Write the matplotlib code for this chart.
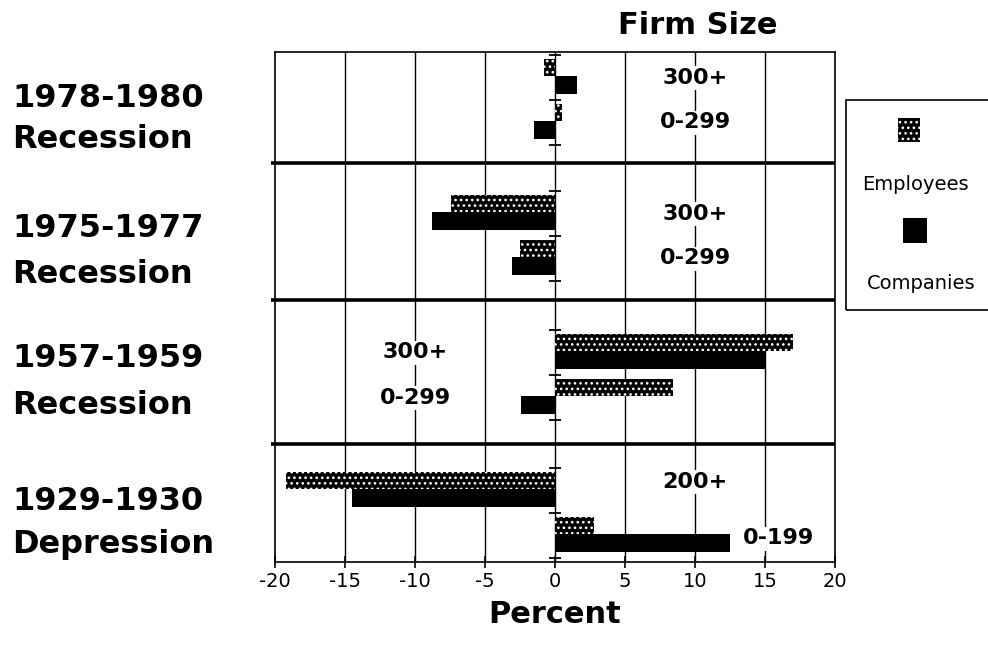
import matplotlib
matplotlib.use("Agg")
import matplotlib.pyplot as plt
from matplotlib.patches import Rectangle

plt.rcParams["font.family"] = ["DejaVu Sans"]
plt.rcParams["axes.unicode_minus"] = False
plt.rcParams["hatch.linewidth"] = 1.1

# ---- data: percent change by firm size ----
period_years = ["1978-1980", "1975-1977", "1957-1959", "1929-1930"]
period_kinds = ["Recession", "Recession", "Recession", "Depression"]
large_labels = ["300+", "300+", "300+", "200+"]
small_labels = ["0-299", "0-299", "0-299", "0-199"]
employees_large = [-0.8, -7.4, 17.0, -19.2]
companies_large = [1.6, -8.8, 15.0, -14.5]
employees_small = [0.5, -2.5, 8.4, 2.8]
companies_small = [-1.5, -3.1, -2.4, 12.5]
x_ticks = [-20, -15, -10, -5, 0, 5, 10, 15, 20]

# ---- layout (vertical units run downward, in figure pixel rows) ----
W, H = 988, 653
AX_L, AX_R, AX_T, AX_B = 275, 835, 52, 562
panel_edges = [52, 163, 300, 444, 562]
group_tops = [55, 191, 330, 468]
GROUP = 45.0
EMP_OFF, EMP_H = 12.5, 17.0
COMP_OFF, COMP_H = 29.5, 18.0
label_x = [10, 10, -10, 10]
STIPPLE = "..."

fig = plt.figure(figsize=(W / 100, H / 100), dpi=100)
ax = fig.add_axes([AX_L / W, 1 - AX_B / H, (AX_R - AX_L) / W, (AX_B - AX_T) / H])
ax.set_xlim(x_ticks[0], x_ticks[-1])
ax.set_ylim(AX_B, AX_T)

# vertical grid
for xv in x_ticks[1:-1]:
    ax.axvline(xv, color="black", lw=1.0, zorder=1)

# panel dividers
ax.hlines(panel_edges[1:-1], -20.3, 20, color="black", lw=2.6, zorder=4, clip_on=False)


def draw_bar(y, value, height, stippled):
    if stippled:
        ax.barh(y, value, height=height, left=0, color="black", edgecolor="white",
                linewidth=0, hatch=STIPPLE, zorder=2)
    else:
        ax.barh(y, value, height=height, left=0, color="black", linewidth=0, zorder=2.5)


for i in range(4):
    t1 = group_tops[i]
    t2 = t1 + GROUP
    draw_bar(t1 + EMP_OFF, employees_large[i], EMP_H, True)
    draw_bar(t1 + COMP_OFF, companies_large[i], COMP_H, False)
    draw_bar(t2 + EMP_OFF, employees_small[i], EMP_H, True)
    draw_bar(t2 + COMP_OFF, companies_small[i], COMP_H, False)
    # small cross marks on the zero line between groups
    ax.hlines([t1, t2, t2 + GROUP], -0.4, 0.4, color="black", lw=1.3, zorder=3)

    box = dict(facecolor="white", edgecolor="none", pad=1.5)
    if i < 3:
        ax.text(label_x[i], t1 + GROUP / 2, large_labels[i], ha="center", va="center",
                fontsize=16, fontweight="bold", bbox=box, zorder=5)
        ax.text(label_x[i], t2 + GROUP / 2, small_labels[i], ha="center", va="center",
                fontsize=16, fontweight="bold", bbox=box, zorder=5)
    else:
        ax.text(label_x[i], t1 + GROUP / 2 - 9, large_labels[i], ha="center", va="center",
                fontsize=16, fontweight="bold", bbox=box, zorder=5)
        ax.text(companies_small[i] + 0.9, t2 + COMP_OFF - 4, small_labels[i], ha="left",
                va="center", fontsize=16, fontweight="bold", bbox=box, zorder=5)

for s in ax.spines.values():
    s.set_linewidth(1.2)
ax.set_yticks([])
ax.set_xticks(x_ticks)
ax.set_xticklabels([str(v) for v in x_ticks])
ax.tick_params(axis="x", direction="inout", length=8, width=1.2, pad=3, labelsize=14)
ax.set_xlabel("Percent", fontsize=22, fontweight="bold", labelpad=7)

# period labels on the left
first_base = [107, 237, 367, 510]
second_base = [148, 283, 414, 553]
for i in range(4):
    fig.text(12 / W, 1 - first_base[i] / H, period_years[i], ha="left", va="baseline",
             fontsize=23, fontweight="bold")
    fig.text(12 / W, 1 - second_base[i] / H, period_kinds[i], ha="left", va="baseline",
             fontsize=23, fontweight="bold")

fig.text(698 / W, 1 - 26 / H, "Firm Size", ha="center", va="center",
         fontsize=22, fontweight="bold")

# legend panel
fig.add_artist(Rectangle((846 / W, 1 - 310 / H), (1000 - 846) / W, 210 / H,
                         transform=fig.transFigure, fill=False, lw=1.2,
                         edgecolor="black", clip_on=False))
fig.add_artist(Rectangle((898 / W, 1 - 142 / H), 22 / W, 24 / H,
                         transform=fig.transFigure, facecolor="black",
                         edgecolor="white", lw=0, hatch=STIPPLE))
fig.add_artist(Rectangle((903 / W, 1 - 243 / H), 24 / W, 25 / H,
                         transform=fig.transFigure, facecolor="black", lw=0))
fig.text(915 / W, 1 - 184 / H, "Employees", ha="center", va="center", fontsize=14)
fig.text(921 / W, 1 - 283 / H, "Companies", ha="center", va="center", fontsize=14)

fig.savefig("out.png", dpi=100, facecolor="white")
